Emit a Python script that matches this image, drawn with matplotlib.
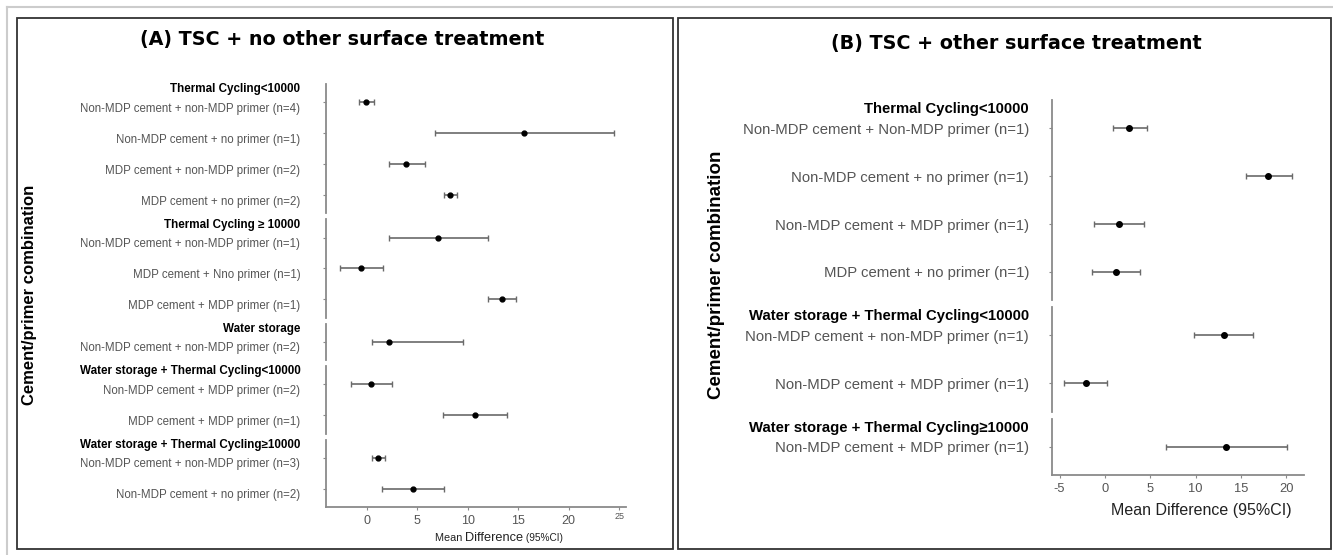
import matplotlib.pyplot as plt
from matplotlib.gridspec import GridSpec
from matplotlib.patches import Rectangle
from matplotlib.lines import Line2D
from matplotlib.transforms import ScaledTranslation

W, H = 1333, 555
SANS = ["Liberation Sans", "DejaVu Sans"]
TITLE_FONT = ["DejaVu Sans"]

# ---- Panel A: TSC + no other surface treatment ----
a_groups = ["Thermal Cycling<10000", "Thermal Cycling \u2265 10000", "Water storage",
            "Water storage + Thermal Cycling<10000", "Water storage + Thermal Cycling\u226510000"]
a_labels = [
    ["Non-MDP cement + non-MDP primer (n=4)", "Non-MDP cement + no primer (n=1)",
     "MDP cement + non-MDP primer (n=2)", "MDP cement + no primer (n=2)"],
    ["Non-MDP cement + non-MDP primer (n=1)", "MDP cement + Nno primer (n=1)",
     "MDP cement + MDP primer (n=1)"],
    ["Non-MDP cement + non-MDP primer (n=2)"],
    ["Non-MDP cement + MDP primer (n=2)", "MDP cement + MDP primer (n=1)"],
    ["Non-MDP cement + non-MDP primer (n=3)", "Non-MDP cement + no primer (n=2)"],
]
a_mean = [[-0.05, 15.6, 3.9, 8.25], [7.1, -0.6, 13.4], [2.2], [0.4, 10.7], [1.15, 4.55]]
a_low = [[-0.75, 6.8, 2.2, 7.7], [2.2, -2.6, 12.0], [0.55], [-1.55, 7.6], [0.5, 1.55]]
a_high = [[0.7, 24.45, 5.75, 8.9], [12.05, 1.6, 14.75], [9.5], [2.55, 13.9], [1.85, 7.7]]
a_ticks = [0, 5, 10, 15, 20, 25]

# ---- Panel B: TSC + other surface treatment ----
b_groups = ["Thermal Cycling<10000", "Water storage + Thermal Cycling<10000",
            "Water storage + Thermal Cycling\u226510000"]
b_labels = [
    ["Non-MDP cement + Non-MDP primer (n=1)", "Non-MDP cement + no primer (n=1)",
     "Non-MDP cement + MDP primer (n=1)", "MDP cement + no primer (n=1)"],
    ["Non-MDP cement + non-MDP primer (n=1)", "Non-MDP cement + MDP primer (n=1)"],
    ["Non-MDP cement + MDP primer (n=1)"],
]
b_mean = [[2.7, 18.0, 1.6, 1.2], [13.1, -2.1], [13.3]]
b_low = [[0.85, 15.5, -1.2, -1.4], [9.8, -4.5], [6.7]]
b_high = [[4.65, 20.65, 4.35, 3.85], [16.3, 0.2], [20.05]]
b_ticks = [-5, 0, 5, 10, 15, 20]


def fx(px):
    return px / W


def fy(py):
    return 1 - py / H


fig = plt.figure(figsize=(W / 100, H / 100), dpi=100)
fig.patch.set_facecolor("white")


def draw_panel(groups, labels, mean, low, high, ticks, left, right, top, bottom, gap,
               xlim, lab_size, head_size, tick_size, pad, lab_shift, head_pos, ms):
    ratios = [len(r) + 0.18 for r in labels]
    n = len(labels)
    avg_h = (bottom - top - gap * (n - 1)) / n
    gs = GridSpec(n, 1, figure=fig, left=fx(left), right=fx(right), top=fy(top),
                  bottom=fy(bottom), height_ratios=ratios, hspace=gap / avg_h)
    shift = ScaledTranslation(0, -lab_shift / 100, fig.dpi_scale_trans)
    axes = []
    for i in range(n):
        ax = fig.add_subplot(gs[i])
        rows = list(range(len(labels[i])))
        m, lo, hi = mean[i], low[i], high[i]
        xerr = [[a - b for a, b in zip(m, lo)], [b - a for a, b in zip(m, hi)]]
        ax.errorbar(m, rows, xerr=xerr, fmt="o", color="black", ms=ms,
                    ecolor="#6a6a6a", elinewidth=1.2, capsize=2.5, capthick=1.0)
        ax.set_xlim(*xlim)
        ax.set_ylim(len(rows) - 1 + 0.59, -0.59)
        for s in ["top", "right", "bottom"]:
            ax.spines[s].set_visible(False)
        ax.spines["left"].set_color("#8a8a8a")
        ax.spines["left"].set_linewidth(1.3)
        ax.set_yticks(rows)
        ax.set_yticklabels(labels[i], fontsize=lab_size, color="#555555", family=SANS)
        ax.tick_params(axis="y", length=2.5, width=0.8, color="#8a8a8a", pad=pad)
        for t in ax.get_yticklabels():
            t.set_transform(t.get_transform() + shift)
        ax.annotate(groups[i], xy=(0, head_pos), xycoords=("axes fraction", "data"),
                    xytext=(-(pad + 2.5), 0), textcoords="offset points",
                    ha="right", va="center", fontsize=head_size, fontweight="bold",
                    family=SANS, color="black")
        if i < n - 1:
            ax.set_xticks([])
        else:
            ax.spines["bottom"].set_visible(True)
            ax.spines["bottom"].set_color("#8a8a8a")
            ax.spines["bottom"].set_linewidth(1.3)
            ax.set_xticks(ticks)
            ax.set_xticklabels([str(t) for t in ticks], fontsize=tick_size,
                               color="#555555", family=SANS)
            ax.tick_params(axis="x", length=2, color="#8a8a8a", pad=4)
        axes.append(ax)
    return axes


axA = draw_panel(a_groups, a_labels, a_mean, a_low, a_high, a_ticks,
                 326, 626, 84, 507, 6, (-4.03, 25.67),
                 8.3, 8.4, 9, 16, 5, -0.42, 3.5)
# the "25" label is smaller and slightly raised in the original
last = axA[-1].get_xticklabels()[-1]
last.set_fontsize(6.5)
last.set_transform(last.get_transform() + ScaledTranslation(0, 0.03, fig.dpi_scale_trans))

axB = draw_panel(b_groups, b_labels, b_mean, b_low, b_high, b_ticks,
                 1052, 1304, 100, 475, 7, (-5.84, 21.94),
                 10.7, 10.7, 9.3, 14, 0, -0.4, 4)

# x-axis labels
t_diff = fig.text(fx(494), fy(538), "Difference", ha="center", va="center",
                  fontsize=9.2, family=SANS, color="#222222")
axA[-1].annotate("Mean ", xy=(0, 0.12), xycoords=t_diff, ha="right", va="bottom",
                 fontsize=7.8, family=SANS, color="#222222", annotation_clip=False)
axA[-1].annotate(" (95%CI)", xy=(1, 0.12), xycoords=t_diff, ha="left", va="bottom",
                 fontsize=7.3, family=SANS, color="#222222", annotation_clip=False)
fig.text(fx(1201), fy(510), "Mean Difference (95%CI)", ha="center", va="center",
         fontsize=11.5, family=SANS, color="#222222")

# y-axis labels
fig.text(fx(30), fy(295), "Cement/primer combination", rotation=90, ha="center",
         va="center", fontsize=12, fontweight="bold", family=SANS)
fig.text(fx(716), fy(275), "Cement/primer combination", rotation=90, ha="center",
         va="center", fontsize=13.5, fontweight="bold", family=SANS)

# panel titles
fig.text(fx(342), fy(40), "(A) TSC + no other surface treatment", ha="center",
         va="center", fontsize=13.8, fontweight="bold", family=TITLE_FONT)
fig.text(fx(1016), fy(44), "(B) TSC + other surface treatment", ha="center",
         va="center", fontsize=13.8, fontweight="bold", family=TITLE_FONT)

# panel frames
for x0, x1 in [(17, 673), (678, 1331)]:
    fig.add_artist(Rectangle((fx(x0), fy(549)), fx(x1) - fx(x0), fy(18) - fy(549),
                             transform=fig.transFigure, fill=False,
                             edgecolor="#333333", linewidth=1.3))
fig.add_artist(Line2D([fx(7), 1], [fy(7), fy(7)], transform=fig.transFigure,
                      color="#cccccc", linewidth=1.5))
fig.add_artist(Line2D([fx(7), fx(7)], [fy(7), 0], transform=fig.transFigure,
                      color="#cccccc", linewidth=1.5))

fig.savefig("out.png", dpi=100)
